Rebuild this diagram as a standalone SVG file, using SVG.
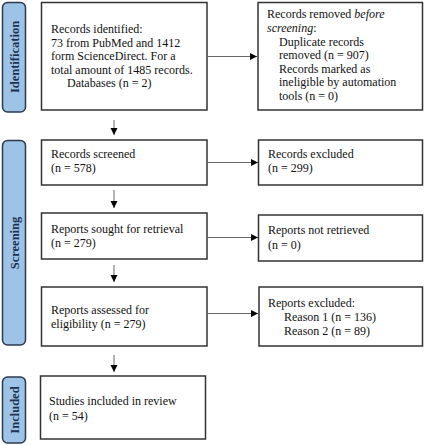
<svg xmlns="http://www.w3.org/2000/svg" width="425" height="445" viewBox="0 0 425 445">
<style>
.box{fill:#fff;stroke:#333;stroke-width:1.5}
.bar{fill:#9dc3e6;stroke:#2b3a4f;stroke-width:1.5}
.t{font-family:"Liberation Serif","Times New Roman",serif;font-size:12px;fill:#111}
.lab{font-family:"Liberation Serif","Times New Roman",serif;font-size:12.5px;font-weight:bold;fill:#1f3050}
.ln{stroke:#666;stroke-width:1;fill:none}
</style>
<defs>
<marker id="ah" markerWidth="8" markerHeight="8" refX="7" refY="4" orient="auto" markerUnits="userSpaceOnUse">
<path d="M0,0.5 L7,4 L0,7.5 Z" fill="#000"/>
</marker>
</defs>
<rect width="425" height="445" fill="#fff"/>
<g id="phase-identification">
<rect class="bar" x="2.5" y="2.5" width="23" height="109.5" rx="5"/>
<text class="lab" transform="translate(18.5,57) rotate(-90)" text-anchor="middle">Identification</text>
</g>
<g id="phase-screening">
<rect class="bar" x="2.5" y="140.5" width="23" height="204.5" rx="5"/>
<text class="lab" transform="translate(18.5,243) rotate(-90)" text-anchor="middle">Screening</text>
</g>
<g id="phase-included">
<rect class="bar" x="2.5" y="377" width="23" height="66" rx="5"/>
<text class="lab" transform="translate(18.5,410) rotate(-90)" text-anchor="middle">Included</text>
</g>
<g id="records-identified">
<rect class="box" x="41.5" y="2.5" width="165.5" height="107.5"/>
<text class="t" x="51" y="33">Records identified:</text>
<text class="t" x="51" y="46.5">73 from PubMed and 1412</text>
<text class="t" x="51" y="60">form ScienceDirect. For a</text>
<text class="t" x="51" y="73.5">total amount of 1485 records.</text>
<text class="t" x="67" y="87">Databases (n = 2)</text>
</g>
<g id="records-removed">
<rect class="box" x="258" y="2.5" width="164.5" height="107.5"/>
<text class="t" x="267" y="18">Records removed <tspan font-style="italic">before</tspan></text>
<text class="t" x="267" y="32"><tspan font-style="italic">screening</tspan>:</text>
<text class="t" x="279" y="45.5">Duplicate records</text>
<text class="t" x="279" y="59">removed (n = 907)</text>
<text class="t" x="279" y="72.5">Records marked as</text>
<text class="t" x="279" y="86">ineligible by automation</text>
<text class="t" x="279" y="99.5">tools (n = 0)</text>
</g>
<g id="records-screened">
<rect class="box" x="41.5" y="140" width="165.5" height="45"/>
<text class="t" x="51" y="158">Records screened</text>
<text class="t" x="51" y="172">(n = 578)</text>
</g>
<g id="records-excluded">
<rect class="box" x="258.5" y="140" width="164" height="45"/>
<text class="t" x="268" y="158">Records excluded</text>
<text class="t" x="268" y="172">(n = 299)</text>
</g>
<g id="reports-sought">
<rect class="box" x="41.5" y="213" width="165.5" height="46"/>
<text class="t" x="51" y="233">Reports sought for retrieval</text>
<text class="t" x="51" y="247">(n = 279)</text>
</g>
<g id="reports-not-retrieved">
<rect class="box" x="258.5" y="215" width="164" height="46"/>
<text class="t" x="268" y="234">Reports not retrieved</text>
<text class="t" x="268" y="248.5">(n = 0)</text>
</g>
<g id="reports-assessed">
<rect class="box" x="41.5" y="287" width="165.5" height="59"/>
<text class="t" x="51" y="314">Reports assessed for</text>
<text class="t" x="51" y="328">eligibility (n = 279)</text>
</g>
<g id="reports-excluded">
<rect class="box" x="259" y="287" width="163.5" height="59"/>
<text class="t" x="268" y="307">Reports excluded:</text>
<text class="t" x="284" y="321">Reason 1 (n = 136)</text>
<text class="t" x="284" y="335">Reason 2 (n = 89)</text>
</g>
<g id="studies-included">
<rect class="box" x="40.5" y="376" width="165" height="63"/>
<text class="t" x="49" y="405">Studies included in review</text>
<text class="t" x="49" y="420">(n = 54)</text>
</g>
<g id="connectors">
<line class="ln" x1="207" y1="56.5" x2="257" y2="56.5" marker-end="url(#ah)"/>
<line class="ln" x1="207" y1="162.5" x2="258" y2="162.5" marker-end="url(#ah)"/>
<line class="ln" x1="207" y1="237.5" x2="258" y2="237.5" marker-end="url(#ah)"/>
<line class="ln" x1="207" y1="313.5" x2="258" y2="313.5" marker-end="url(#ah)"/>
<line class="ln" x1="114" y1="120" x2="114" y2="135" marker-end="url(#ah)"/>
<line class="ln" x1="114" y1="190" x2="114" y2="208" marker-end="url(#ah)"/>
<line class="ln" x1="114" y1="265" x2="114" y2="282" marker-end="url(#ah)"/>
<line class="ln" x1="114" y1="355" x2="114" y2="372" marker-end="url(#ah)"/>
</g>
</svg>
